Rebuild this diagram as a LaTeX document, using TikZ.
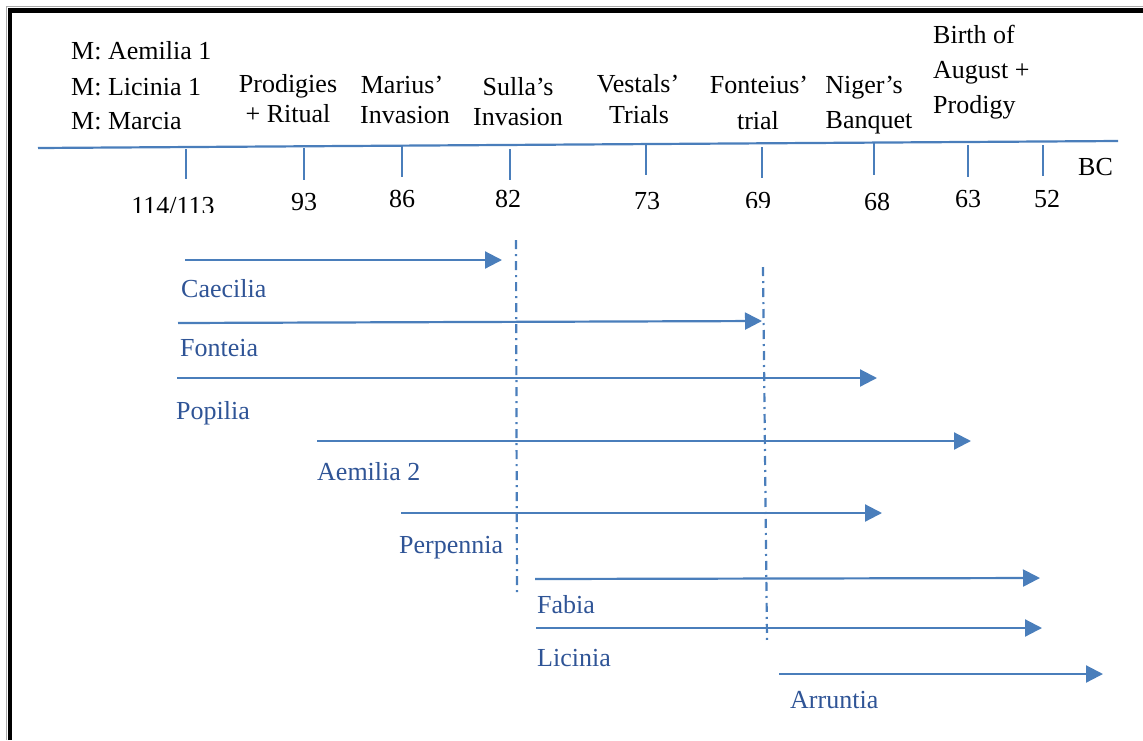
\documentclass[tikz,border=0pt]{standalone}
\usepackage{fontspec}
\setmainfont{Liberation Serif}
\usetikzlibrary{arrows.meta}
\definecolor{arrblue}{RGB}{74,126,187}
\definecolor{lblblue}{RGB}{47,84,150}
\definecolor{edgegrey}{RGB}{170,170,170}
\begin{document}
\begin{tikzpicture}[x=1pt,y=-1pt,
  font=\fontsize{26}{30}\selectfont,
  lbl/.style={inner sep=0pt, anchor=base},
  lbll/.style={inner sep=0pt, anchor=base west},
  period/.style={inner sep=0pt, anchor=base west, text=lblblue},
  arr/.style={draw=arrblue, line width=2.2pt, -{Triangle[length=17pt,width=17pt]}},
  tickmark/.style={draw=arrblue, line width=2.2pt},
  axisline/.style={draw=arrblue, line width=2.2pt},
  dashdotline/.style={draw=arrblue, line width=2.2pt, dash pattern=on 9pt off 5pt on 2pt off 5pt}]
\useasboundingbox (0,0) rectangle (1143,740);
% frame
\draw[edgegrey, line width=0.8pt] (6.5,740) -- (6.5,6.5) -- (1143,6.5);
\draw[black, line width=4.5pt] (9.8,740) -- (9.8,10.3) -- (1143,10.3);
% axis
\coordinate (axL) at (38,148);
\coordinate (axR) at (1118,141);
\draw[axisline] (axL) -- (axR);
% ticks
\foreach \n/\x/\a/\b in {t114/186/149/179, t93/304/148/180, t86/402/146/177, t82/510/149/180,
  t73/646/145/175, t69/762/147/178, t68/874/143/175, t63/968/145/177, t52/1043/145/176}{
  \coordinate (\n a) at (\x,\a);
  \coordinate (\n b) at (\x,\b);
  \draw[tickmark] (\n a) -- (\n b);
}
% top labels
\node[lbll] (m1) at (71,59) {M: Aemilia 1};
\node[lbll] (m2) at (71,95) {M: Licinia 1};
\node[lbll] (m3) at (71,129) {M: Marcia};
\node[lbl] (e93a) at (288,92) {Prodigies};
\node[lbl] (e93b) at (288,122) {+ Ritual};
\node[lbl] (e86a) at (402,93) {Marius’};
\node[lbl] (e86b) at (405,123) {Invasion};
\node[lbl] (e82a) at (518,95) {Sulla’s};
\node[lbl] (e82b) at (518,125) {Invasion};
\node[lbl] (e73a) at (638,92) {Vestals’};
\node[lbl] (e73b) at (639,123) {Trials};
\node[lbl] (e69a) at (759,93) {Fonteius’};
\node[lbl] (e69b) at (758,129) {trial};
\node[lbl] (e68a) at (864,93) {Niger’s};
\node[lbl] (e68b) at (869,128) {Banquet};
\node[lbll] (e63a) at (933,43) {Birth of};
\node[lbll] (e63b) at (933,78) {August +};
\node[lbll] (e63c) at (933,113) {Prodigy};
\node[lbll] (bc) at (1078,175) {BC};
% year labels
\begin{scope}
\clip (0,0) rectangle (1143,212);
\node[lbl] (y114) at (173,214) {114/113};
\end{scope}
\node[lbl] (y93) at (304,210) {93};
\node[lbl] (y86) at (402,207) {86};
\node[lbl] (y82) at (508,207) {82};
\node[lbl] (y73) at (647,209) {73};
\begin{scope}
\clip (0,0) rectangle (1143,207);
\node[lbl] (y69) at (758,209) {69};
\end{scope}
\node[lbl] (y68) at (877,210) {68};
\node[lbl] (y63) at (968,207) {63};
\node[lbl] (y52) at (1047,207) {52};
% dash-dot markers
\coordinate (d1a) at (516,240);
\coordinate (d1b) at (517,596);
\coordinate (d2a) at (763,267);
\coordinate (d2b) at (767,640);
\draw[dashdotline] (d1a) -- (d1b);
\draw[dashdotline] (d2a) -- (d2b);
% period arrows
\foreach \n/\xa/\ya/\xb/\yb in {caec/185/260/502/260, font/178/323/762/321, popi/177/378/877/378,
  aemi/317/441/971/441, perp/401/513/882/513, fabi/535/579/1040/578, lici/536/628/1042/628,
  arru/779/674/1103/674}{
  \coordinate (\n s) at (\xa,\ya);
  \coordinate (\n e) at (\xb,\yb);
  \draw[arr] (\n s) -- (\n e);
}
\node[period] (lcaec) at (181,297) {Caecilia};
\node[period] (lfont) at (180,356) {Fonteia};
\node[period] (lpopi) at (176,419) {Popilia};
\node[period] (laemi) at (317,480) {Aemilia 2};
\node[period] (lperp) at (399,553) {Perpennia};
\node[period] (lfabi) at (537,613) {Fabia};
\node[period] (llici) at (537,666) {Licinia};
\node[period] (larru) at (790,708) {Arruntia};
\end{tikzpicture}
\end{document}
